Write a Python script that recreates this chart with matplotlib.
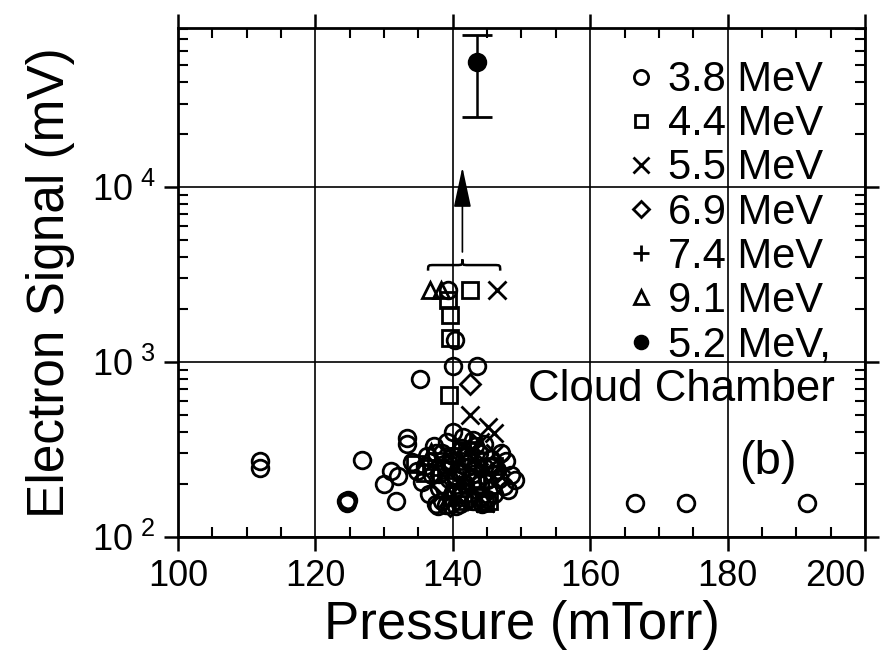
import numpy as np
import matplotlib
matplotlib.use("Agg")
import matplotlib.pyplot as plt
from matplotlib.path import Path
from matplotlib.patches import PathPatch
from matplotlib.lines import Line2D
import matplotlib.transforms as mtransforms
from matplotlib.ticker import FixedLocator, LogLocator, NullFormatter

plt.rcParams['font.family'] = ['Liberation Sans', 'DejaVu Sans']
plt.rcParams['mathtext.fontset'] = 'custom'
plt.rcParams['mathtext.rm'] = 'Liberation Sans'

# 3.8 MeV
circ_x = [112.0, 112.0, 124.5, 124.6, 124.8, 126.8, 166.5, 174.0, 191.5,
          135.2, 140.0, 143.5, 140.3, 139.3,
          130.0, 131.0, 131.8, 132.0, 133.3, 133.3, 134.0, 134.8, 135.5, 136.0,
          136.5, 137.0, 137.5, 138.0, 138.5, 138.7, 139.2, 139.5, 140.0, 140.0,
          140.5, 140.8, 141.3, 141.8, 142.2, 142.5, 143.0, 143.5, 143.8, 144.2,
          144.5, 145.0, 145.5, 146.0, 146.5, 147.0, 147.5, 148.0, 148.5, 149.0,
          137.8, 139.0, 140.0, 141.5, 143.0, 144.5, 138.5, 137.2, 142.0, 145.8,
          139.8, 141.0, 142.8, 136.2, 147.8,
          137.5, 141.0, 143.0, 145.0, 146.8, 142.0, 140.5, 139.5, 138.0, 144.0,
          145.5, 143.3]
circ_y = [272, 248, 160, 157, 162, 275, 157, 157, 157,
          800, 950, 950, 1335, 2590,
          200, 238, 160, 222, 365, 338, 268, 238, 205, 255,
          175, 225, 300, 190, 160, 260, 350, 215, 180, 290,
          150, 240, 320, 200, 165, 270, 230, 185, 300, 155,
          250, 210, 280, 175, 240, 300, 195, 185, 225, 210,
          150, 152, 400, 370, 360, 340, 300, 330, 250, 230,
          270, 175, 205, 290, 270,
          155, 155, 160, 165, 215, 290, 210, 260, 230, 200,
          250, 330]

# 4.4 MeV
sq_x = [142.5, 139.3, 139.6, 139.6, 139.4, 144.7, 145.2,
        134.5, 136.0, 137.5, 139.0, 141.0, 142.0, 143.5, 144.0, 146.0, 141.5]
sq_y = [2590, 2260, 1860, 1370, 650, 156, 160,
        262, 232, 270, 240, 270, 310, 215, 170, 255, 160]

# 5.5 MeV
x_x = [146.4, 142.5, 145.1, 146.0, 141.5, 143.0, 144.0, 145.0, 146.2, 144.7, 142.0, 147.0]
x_y = [2590, 500, 425, 390, 330, 280, 350, 240, 300, 156, 200, 260]

# 6.9 MeV
dia_x = [142.5, 139.6, 141.0, 143.5, 138.5, 145.5]
dia_y = [745, 150, 230, 260, 200, 190]

# 7.4 MeV
plus_x = [140.5, 141.5, 142.5, 143.5, 144.5, 140.0, 142.0]
plus_y = [270, 210, 350, 300, 230, 320, 160]

# 9.1 MeV
tri_x = [136.7, 138.3, 136.8, 138.0, 139.5, 141.0]
tri_y = [2590, 2590, 305, 250, 170, 190]

# 5.2 MeV cloud chamber
cc_x = [143.5]
cc_y = [51800]
cc_lo = [25100]
cc_hi = [74000]

fig = plt.figure(figsize=(8.84, 6.71), dpi=100)
ax = fig.add_axes([0.2014, 0.2, 0.777, 0.758])
ax.set_yscale('log')
ax.set_xlim(100, 200)
ax.set_ylim(100, 8.1e4)

ms = 12
mew = 2.0
kw = dict(linestyle='none', color='black', mfc='none', mew=mew)
ax.plot(circ_x, circ_y, marker='o', ms=ms, label='3.8 MeV', **kw)
ax.plot(sq_x, sq_y, marker='s', ms=ms - 1, label='4.4 MeV', **kw)
ax.plot(x_x, x_y, marker='x', ms=ms + 1, label='5.5 MeV', **kw)
ax.plot(dia_x, dia_y, marker='D', ms=ms - 2, label='6.9 MeV', **kw)
ax.plot(plus_x, plus_y, marker='+', ms=ms + 2, label='7.4 MeV', **kw)
ax.plot(tri_x, tri_y, marker='^', ms=ms, label='9.1 MeV', **kw)
yerr = [[cc_y[0] - cc_lo[0]], [cc_hi[0] - cc_y[0]]]
ax.errorbar(cc_x, cc_y, yerr=yerr, fmt='o', color='black', ms=ms, mew=mew,
            capsize=11, elinewidth=1.8, capthick=1.8)

# arrow from the brace up to 10^4
ax.annotate('', xy=(141.4, 13500), xytext=(141.4, 4100),
            arrowprops=dict(arrowstyle='-|>,head_length=1.4,head_width=0.3',
                            mutation_scale=18, lw=1.2, color='black'))

# curly brace above the 2.6e3 group
ymin, ymax = ax.get_ylim()
def yfrac(v):
    return (np.log10(v) - np.log10(ymin)) / (np.log10(ymax) - np.log10(ymin))
ym = yfrac(3580)
d = 0.011
xl, xm, xr = 136.4, 141.4, 146.9
verts = [(xl, ym - d), (xl, ym), (xl, ym), (xl + 0.9, ym),
         (xm - 0.9, ym), (xm, ym), (xm, ym), (xm, ym + d),
         (xm, ym), (xm, ym), (xm + 0.9, ym),
         (xr - 0.9, ym), (xr, ym), (xr, ym), (xr, ym - d)]
codes = [Path.MOVETO, Path.CURVE4, Path.CURVE4, Path.CURVE4,
         Path.LINETO, Path.CURVE4, Path.CURVE4, Path.CURVE4,
         Path.CURVE4, Path.CURVE4, Path.CURVE4,
         Path.LINETO, Path.CURVE4, Path.CURVE4, Path.CURVE4]
trans = mtransforms.blended_transform_factory(ax.transData, ax.transAxes)
ax.add_patch(PathPatch(Path(verts, codes), transform=trans, fill=False,
                       lw=1.8, edgecolor='black'))

# grid at major positions
ax.grid(True, which='major', color='black', lw=1.2)

ax.xaxis.set_major_locator(FixedLocator([100, 120, 140, 160, 180, 200]))
ax.xaxis.set_minor_locator(FixedLocator(np.arange(105, 200, 5)))
ax.yaxis.set_major_locator(FixedLocator([1e2, 1e3, 1e4]))
ax.yaxis.set_minor_locator(LogLocator(base=10, subs=np.arange(2, 10)))
ax.yaxis.set_minor_formatter(NullFormatter())
ax.set_yticklabels([r'$10^{\ 2}$', r'$10^{\ 3}$', r'$10^{\ 4}$'])

ax.tick_params(which='major', direction='out', length=10, width=1.8,
               labelsize=26, top=True, right=True, pad=6)
ax.tick_params(which='minor', direction='in', length=7, width=1.5,
               top=True, right=True)
ax.get_xticklabels()[-1].set_horizontalalignment('right')
for s in ax.spines.values():
    s.set_linewidth(2)

ax.set_xlabel('Pressure (mTorr)', fontsize=38, labelpad=4)
ax.set_ylabel('Electron Signal (mV)', fontsize=37, labelpad=12)

handles, labels = ax.get_legend_handles_labels()
handles.append(Line2D([], [], marker='o', color='black', linestyle='none', ms=ms))
labels.append('5.2 MeV,')
leg = ax.legend(handles, labels, loc='upper right', bbox_to_anchor=(0.975, 0.97),
                frameon=False, fontsize=30, handlelength=0.8, handletextpad=0.25,
                labelspacing=0.1, borderaxespad=0, markerscale=0.85)
ax.text(0.957, 0.29, 'Cloud Chamber', transform=ax.transAxes, ha='right',
        va='center', fontsize=31.5)
ax.text(0.9, 0.147, '(b)', transform=ax.transAxes, ha='right', va='center',
        fontsize=34)

fig.savefig('out.png', dpi=100)
